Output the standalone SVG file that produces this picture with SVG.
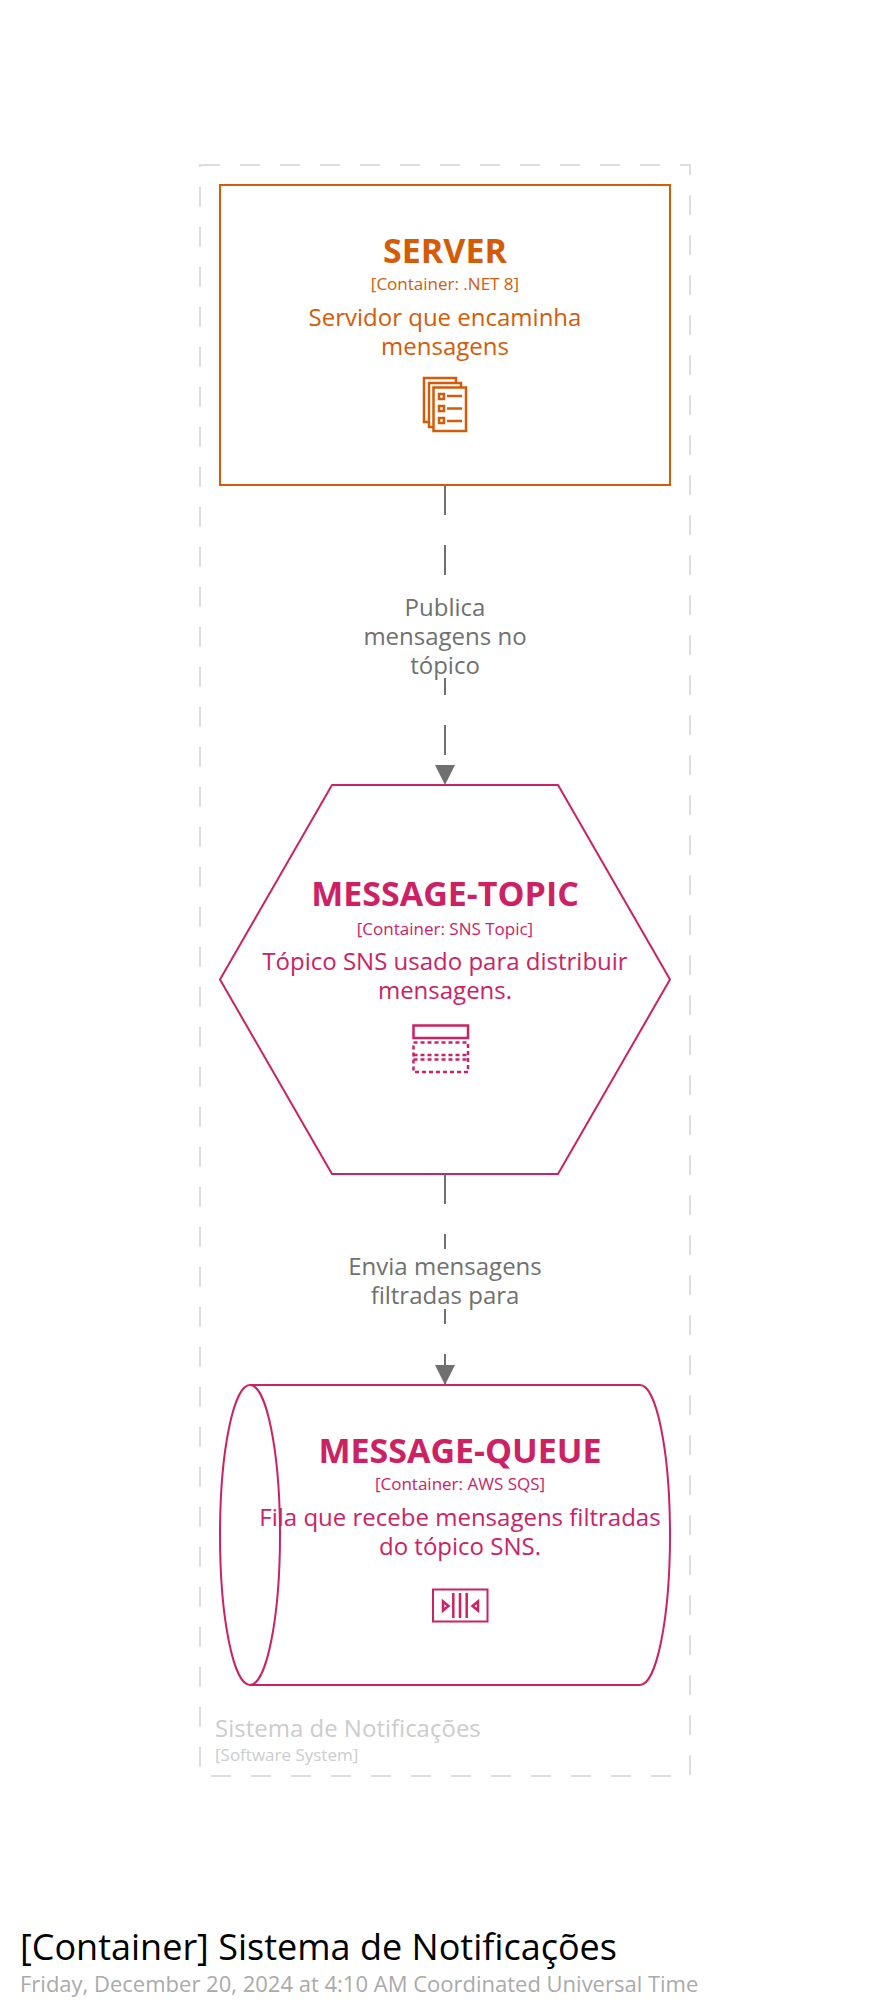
<svg xmlns="http://www.w3.org/2000/svg" width="890" height="2011" viewBox="0 0 890 2011">
<style>
text{font-family:"Open Sans","Noto Sans",sans-serif;text-anchor:middle}
.n{font-size:34px;font-weight:700}
.m{font-size:17px}
.d{font-size:24px}
.o{fill:#D45B07}
.p{fill:#CC2264}
.so{fill:#fff;stroke:#D45B07;stroke-width:2}
.sp{fill:#fff;stroke:#CC2264;stroke-width:2;stroke-linejoin:round}
.io{fill:none;stroke:#D45B07;stroke-width:2.500}
.ip{fill:none;stroke:#CC2264;stroke-width:2.500}
.ipd{fill:none;stroke:#CC2264;stroke-width:2.500;stroke-dasharray:4 3}
.l{font-size:24px;fill:#707070}
.c{fill:none;stroke:#707070;stroke-width:2;stroke-dasharray:30 30}
</style>
<defs>
<marker id="a" markerUnits="userSpaceOnUse" markerWidth="20" markerHeight="20" refX="20" refY="10" orient="auto"><path d="M0 0L20 10L0 20Z" fill="#707070"/></marker>
</defs>
<rect width="890" height="2011" fill="#fff"/>
<g id="boundary">
<rect x="200" y="165" width="490" height="1611" fill="none" stroke="#ddd" stroke-width="2" stroke-dasharray="20 20"/>
<text x="215" y="1737" style="text-anchor:start;font-size:24px;fill:#ccc">Sistema de Notificações</text>
<text x="215" y="1761" style="text-anchor:start;font-size:17px;fill:#ccc">[Software System]</text>
</g>
<g id="server">
<rect class="so" x="220" y="185" width="450" height="300"/>
<text class="n o" x="445" y="263">SERVER</text>
<text class="m o" x="445" y="290">[Container: .NET 8]</text>
<text class="d o" x="445" y="326">Servidor que encaminha</text>
<text class="d o" x="445" y="355">mensagens</text>
<path class="io" d="M428 422H424V378H456V382M433 427H429V383H461V387"/>
<rect class="io" x="433.500" y="387.500" width="32.500" height="43.500"/>
<path class="io" d="M439 394h5v5h-5zM439 406h5v5h-5zM439 418h5v5h-5zM447 396h15M447 408.500h15M447 421h15"/>
</g>
<g id="message-topic">
<path class="sp" d="M332 785H558L670 979.500L558 1174H332L220 979.500Z"/>
<text class="n p" x="445" y="906">MESSAGE-TOPIC</text>
<text class="m p" x="445" y="935">[Container: SNS Topic]</text>
<text class="d p" x="445" y="970">Tópico SNS usado para distribuir</text>
<text class="d p" x="445" y="999">mensagens.</text>
<rect class="ip" x="413.500" y="1025.500" width="54.500" height="12.500"/>
<rect class="ipd" x="413.500" y="1042.500" width="54.500" height="29.500"/>
<path class="ipd" d="M413.500 1055H468M413.500 1059.500H468"/>
</g>
<g id="message-queue">
<path class="sp" d="M250 1385H640A30 150 0 0 1 640 1685H250A30 150 0 0 1 250 1385Z"/>
<path class="sp" style="fill:none" d="M250 1385A30 150 0 0 1 250 1685"/>
<text class="n p" x="460" y="1463">MESSAGE-QUEUE</text>
<text class="m p" x="460" y="1490">[Container: AWS SQS]</text>
<text class="d p" x="460" y="1526">Fila que recebe mensagens filtradas</text>
<text class="d p" x="460" y="1555">do tópico SNS.</text>
<rect class="ip" style="stroke-width:2" x="433" y="1589.500" width="54.500" height="32"/>
<path class="ip" d="M453.300 1593V1618M460 1593V1618M466.700 1593V1618M443 1601.500V1610.500L448.500 1606ZM478 1601.500V1610.500L472.500 1606Z"/>
</g>
<g id="connectors">
<path class="c" d="M445 485V785" marker-end="url(#a)"/>
<path class="c" d="M445 1174V1385" marker-end="url(#a)"/>
<rect x="355" y="590" width="180" height="88" fill="#fff"/>
<rect x="340" y="1249" width="210" height="60" fill="#fff"/>
<text class="l" x="445" y="616">Publica</text>
<text class="l" x="445" y="645">mensagens no</text>
<text class="l" x="445" y="673.500">tópico</text>
<text class="l" x="445" y="1275">Envia mensagens</text>
<text class="l" x="445" y="1304">filtradas para</text>
</g>
<g id="title">
<text x="20" y="1959.500" style="text-anchor:start;font-size:36px;fill:#000">[Container] Sistema de Notificações</text>
<text x="20" y="1992" style="text-anchor:start;font-size:22px;fill:#aaa">Friday, December 20, 2024 at 4:10 AM Coordinated Universal Time</text>
</g>
</svg>
